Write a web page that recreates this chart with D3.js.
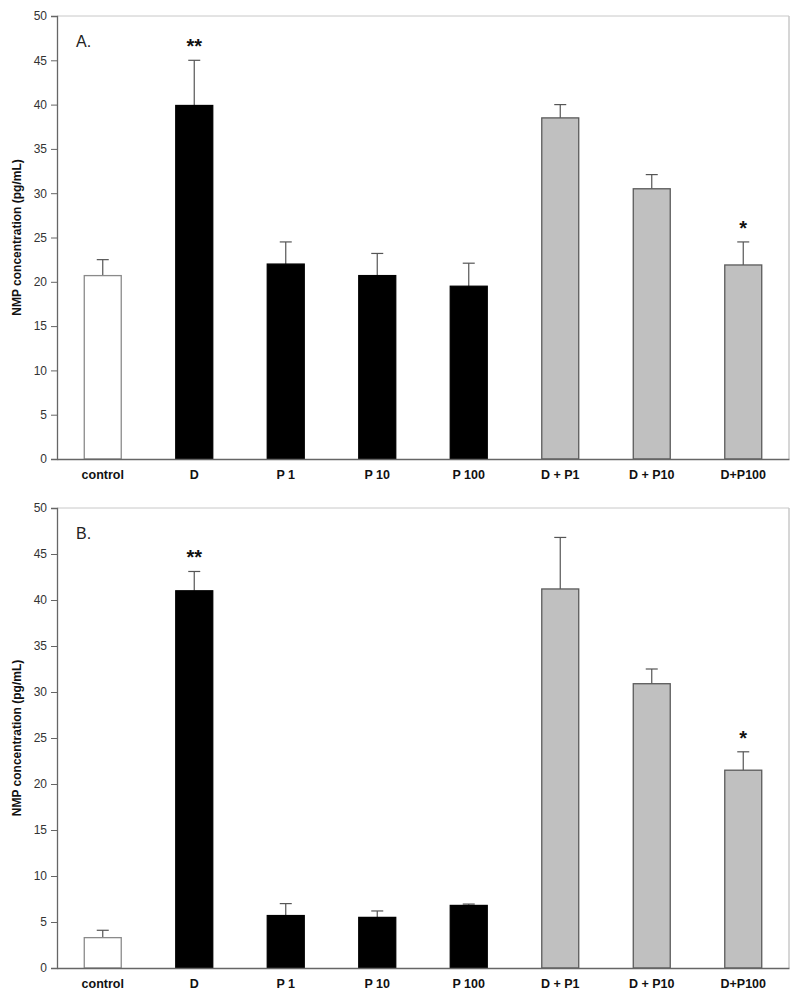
<!DOCTYPE html>
<html><head><meta charset="utf-8">
<script src="https://cdn.jsdelivr.net/npm/d3@7"></script>
<style>body{margin:0;background:#fff}svg{display:block}text{font-family:Arial,"Liberation Sans",sans-serif}</style>
</head><body>
<svg id="c" width="800" height="995"></svg>
<script>
const categories = ["control","D","P 1","P 10","P 100","D + P1","D + P10","D+P100"];
const groups = ["control","black","black","black","black","grey","grey","grey"];
const valuesA = [20.7, 39.9, 22.0, 20.7, 19.5, 38.5, 30.5, 21.9];
const errorsA = [1.8, 5.1, 2.5, 2.5, 2.6, 1.5, 1.6, 2.6];
const valuesB = [3.3, 41.0, 5.7, 5.5, 6.8, 41.2, 30.9, 21.5];
const errorsB = [0.8, 2.1, 1.3, 0.7, 0.15, 5.6, 1.6, 2.0];
const starsA = ["", "**", "", "", "", "", "", "*"];
const starsB = ["", "**", "", "", "", "", "", "*"];
const yTicks = [0,5,10,15,20,25,30,35,40,45,50];
const panelLabels = ["A.", "B."];
const yLabel = "NMP concentration (pg/mL)";

const fills = {control:"#ffffff", black:"#000000", grey:"#c0c0c0"};
const strokes = {control:"#8a8a8a", black:"#000000", grey:"#5a5a5a"};

const svg = d3.select("#c");
const left = 57, right = 789;

function panel(top, bottom, values, errors, stars, label) {
  const g = svg.append("g");
  const x = d3.scaleBand().domain(categories).range([left, right]).paddingInner(0.585).paddingOuter(0.2925);
  const y = d3.scaleLinear().domain([0, 50]).range([bottom, top]);

  g.append("line").attr("x1", left).attr("x2", right).attr("y1", top).attr("y2", top).attr("stroke", "#c8c8c8");
  g.append("line").attr("x1", right).attr("x2", right).attr("y1", top).attr("y2", bottom).attr("stroke", "#c8c8c8").attr("stroke-width", 1.5);

  const eb = g.selectAll(".eb").data(categories).enter().append("g");
  eb.append("line").attr("x1", d => x(d) + x.bandwidth()/2).attr("x2", d => x(d) + x.bandwidth()/2)
    .attr("y1", (d,i) => y(values[i])).attr("y2", (d,i) => y(values[i] + errors[i])).attr("stroke", "#555").attr("stroke-width", 1.2);
  eb.append("line").attr("x1", d => x(d) + x.bandwidth()/2 - 6).attr("x2", d => x(d) + x.bandwidth()/2 + 6)
    .attr("y1", (d,i) => y(values[i] + errors[i])).attr("y2", (d,i) => y(values[i] + errors[i])).attr("stroke", "#555").attr("stroke-width", 1.2);

  g.selectAll(".bar").data(categories).enter().append("rect")
    .attr("x", d => x(d) + 0.5).attr("width", x.bandwidth() - 1)
    .attr("y", (d,i) => y(values[i])).attr("height", (d,i) => y(0) - y(values[i]))
    .attr("fill", (d,i) => fills[groups[i]]).attr("stroke", (d,i) => strokes[groups[i]]).attr("stroke-width", 1.3);

  g.selectAll(".star").data(categories).enter().append("text")
    .attr("x", d => x(d) + x.bandwidth()/2).attr("y", (d,i) => y(values[i] + errors[i]) - 7)
    .attr("text-anchor", "middle").attr("font-size", 20).attr("font-weight", "bold").attr("fill", "#111")
    .text((d,i) => stars[i]);

  const ya = g.append("g").attr("transform", `translate(${left},0)`)
    .call(d3.axisLeft(y).tickValues(yTicks).tickSize(6).tickPadding(4).tickFormat(d3.format("d")));
  ya.select(".domain").attr("stroke", "#666").attr("stroke-width", 1.3);
  ya.selectAll(".tick line").attr("stroke", "#666");
  ya.selectAll(".tick text").attr("font-size", 12).attr("fill", "#333").attr("font-family", "Arial, 'Liberation Sans', sans-serif");

  const xa = g.append("g").attr("transform", `translate(0,${bottom})`)
    .call(d3.axisBottom(x).tickSize(0).tickPadding(11));
  xa.select(".domain").attr("stroke", "#666").attr("stroke-width", 1.3);
  xa.selectAll(".tick text").attr("font-size", 12.5).attr("font-weight", "bold").attr("fill", "#111").attr("font-family", "Arial, 'Liberation Sans', sans-serif");

  g.append("text").attr("x", 76).attr("y", top + 31).attr("font-size", 16).attr("fill", "#222").text(label);

  g.append("text").attr("transform", `translate(21,${(top + bottom)/2}) rotate(-90)`)
    .attr("text-anchor", "middle").attr("font-size", 12).attr("font-weight", "bold").attr("fill", "#111").text(yLabel);
}

panel(16, 459, valuesA, errorsA, starsA, panelLabels[0]);
panel(508, 968, valuesB, errorsB, starsB, panelLabels[1]);
</script>
</body></html>
